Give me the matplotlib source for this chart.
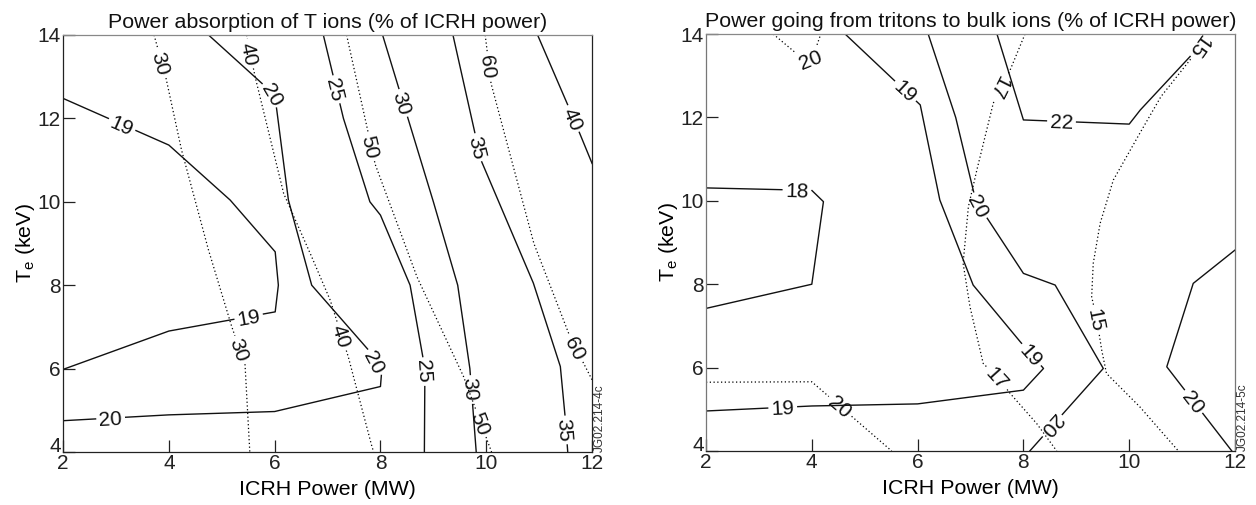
import matplotlib.pyplot as plt
import numpy as np

plt.rcParams['font.family'] = ['Liberation Sans', 'DejaVu Sans']
plt.rcParams['text.color'] = '#111111'

FS = 15

# ---- left panel: power absorption of T ions (% of ICRH power) ----
# each contour: ICRH power (MW) and Te (keV) along the line
abs19_p = [2.0, 4.0, 5.16, 6.01, 6.07, 6.01, 4.0, 2.0]
abs19_t = [12.48, 11.36, 10.04, 8.8, 8.0, 7.36, 6.9, 5.98]
abs20_p = [2.0, 4.0, 6.0, 8.0, 8.02, 7.77, 6.70, 6.26, 6.04, 6.0, 5.69, 4.75]
abs20_t = [4.75, 4.89, 4.97, 5.57, 5.89, 6.45, 8.0, 10.04, 12.2, 12.56, 12.92, 14.0]
abs25_p = [6.92, 7.3, 7.8, 8.0, 8.56, 8.84, 8.83]
abs25_t = [14.0, 12.0, 10.0, 9.68, 8.0, 6.0, 4.0]
abs30_p = [8.04, 9.0, 9.46, 9.69, 9.81]
abs30_t = [14.0, 10.0, 8.0, 6.0, 4.0]
abs35_p = [9.37, 9.9, 10.89, 11.4, 11.49, 11.54]
abs35_t = [14.0, 11.0, 8.05, 6.05, 4.85, 4.0]
abs40_p = [10.97, 11.65, 12.0]
abs40_t = [14.0, 12.0, 10.92]
# dotted contours
dabs30_p = [3.72, 3.94, 4.24, 4.75, 5.19, 5.44, 5.53]
dabs30_t = [14.0, 13.0, 11.24, 8.84, 7.0, 6.09, 4.0]
dabs40_p = [5.47, 5.63, 6.17, 6.7, 7.05, 7.39, 7.83, 7.87]
dabs40_t = [14.0, 13.0, 10.2, 8.68, 7.64, 6.29, 4.17, 4.0]
dabs50_p = [7.36, 7.9, 8.69, 9.57, 10.1]
dabs50_t = [14.0, 10.9, 8.2, 5.81, 4.0]
dabs60_p = [9.98, 10.09, 10.9, 11.58, 12.0]
dabs60_t = [14.0, 12.84, 9.0, 6.77, 5.73]

# ---- right panel: power going from tritons to bulk ions ----
blk18_p = [2.0, 4.0, 4.22, 4.0, 2.0]
blk18_t = [10.31, 10.25, 9.98, 8.0, 7.42]
blk19_p = [4.63, 6.05, 6.42, 7.05, 7.94, 8.38, 8.0, 6.0, 4.0, 2.0]
blk19_t = [14.0, 12.3, 10.02, 7.98, 6.62, 5.98, 5.46, 5.13, 5.08, 4.96]
blk20a_p = [6.2, 6.72, 7.1, 8.0, 8.6, 9.51, 8.12]
blk20a_t = [14.0, 12.0, 10.0, 8.26, 7.98, 5.98, 4.0]
blk20b_p = [12.0, 11.21, 10.71, 11.94]
blk20b_t = [8.82, 8.02, 6.02, 4.0]
blk22_p = [7.5, 8.0, 10.0, 10.21, 11.15, 11.45]
blk22_t = [14.0, 11.94, 11.84, 12.18, 13.46, 14.0]
# dotted contours
dblk15_p = [11.5, 11.15, 10.6, 10.2, 9.7, 9.45, 9.32, 9.29, 9.39, 9.48, 9.57, 10.2, 10.93]
dblk15_t = [14.0, 13.38, 12.5, 11.62, 10.5, 9.46, 8.5, 7.7, 7.14, 6.42, 5.86, 5.06, 4.0]
dblk17_p = [8.03, 7.75, 7.56, 7.43, 7.12, 6.96, 6.86, 6.99, 7.24, 7.53, 7.75, 8.25, 8.63]
dblk17_t = [14.0, 13.14, 12.7, 12.34, 10.74, 9.86, 8.5, 7.46, 6.1, 5.74, 5.38, 4.66, 4.0]
dblk20a_p = [3.27, 3.74, 3.97, 4.06, 4.17]
dblk20a_t = [14.0, 13.5, 13.42, 13.6, 14.0]
dblk20b_p = [2.0, 4.0, 5.51]
dblk20b_t = [5.65, 5.66, 4.0]

power_ticks = [2, 4, 6, 8, 10, 12]
te_ticks = [4, 6, 8, 10, 12, 14]

fig = plt.figure(figsize=(12.56, 5.05), dpi=100)


def make_axes(rect, title, tag):
    ax = fig.add_axes(rect)
    ax.set_xlim(2, 12)
    ax.set_ylim(4, 14)
    ax.set_xticks(power_ticks)
    ax.set_yticks(te_ticks)
    ax.tick_params(direction='in', length=8.6, width=0.9, pad=1.5, labelsize=FS,
                   top=False, right=False, colors='#222222')
    # lowest Te label sits on the corner, above the power labels
    ax.get_yticklabels()[0].set_verticalalignment('baseline')
    for side in ax.spines:
        ax.spines[side].set_linewidth(0.9)
        ax.spines[side].set_color('#222222')
    ax.spines['top'].set_color('#888888')
    ax.set_title(title, fontsize=15.4, pad=5)
    ax.set_xlabel('ICRH Power (MW)', fontsize=15.4, labelpad=5)
    ax.set_ylabel(r'T$_\mathregular{e}$ (keV)', fontsize=15.4)
    ax.yaxis.set_label_coords(-0.05, 0.5)
    ax.text(1.003, 0.0, tag, transform=ax.transAxes, rotation=90, fontsize=8.5,
            ha='left', va='bottom', color='#333333')
    return ax


def contour_line(ax, px, te, dotted, labels):
    # draw one contour with inline labels (text, P hint, Te hint, flip)
    T = ax.transData
    pts = T.transform(np.column_stack([px, te]))
    seg = np.diff(pts, axis=0)
    slen = np.hypot(seg[:, 0], seg[:, 1])
    cum = np.concatenate([[0], np.cumsum(slen)])
    total = cum[-1]

    def at(s):
        s = min(max(s, 0.0), total)
        i = min(np.searchsorted(cum, s, side='right') - 1, len(seg) - 1)
        return pts[i] + (s - cum[i]) / slen[i] * seg[i]

    cuts = []
    for text, hx, hy, flip in labels:
        h = T.transform((hx, hy))
        best, s0 = np.inf, 0.0
        for i in range(len(seg)):
            t = np.clip(np.dot(h - pts[i], seg[i]) / slen[i] ** 2, 0, 1)
            d = np.hypot(*(pts[i] + t * seg[i] - h))
            if d < best:
                best, s0 = d, cum[i] + t * slen[i]
        half = 0.5 * (len(text) * 0.556 * FS * 100 / 72 + 7)
        a, b = at(s0 - half), at(s0 + half)
        ang = np.degrees(np.arctan2(b[1] - a[1], b[0] - a[0])) + (180 if flip else 0)
        cx, cy = T.inverted().transform(at(s0))
        ax.text(cx, cy, text, rotation=ang, rotation_mode='anchor', ha='center',
                va='center_baseline', fontsize=FS)
        cuts.append((s0 - half, s0 + half))

    cuts.sort()
    pieces, start = [], 0.0
    for c0, c1 in cuts:
        if c0 > start:
            pieces.append((start, c0))
        start = max(start, c1)
    if start < total:
        pieces.append((start, total))
    for sa, sb in pieces:
        inner = [pts[i] for i in range(len(pts)) if sa < cum[i] < sb]
        piece = T.inverted().transform(np.array([at(sa)] + inner + [at(sb)]))
        if dotted:
            ax.plot(piece[:, 0], piece[:, 1], color='k', lw=0.9, ls=(0, (1, 2)))
        else:
            ax.plot(piece[:, 0], piece[:, 1], color='#111111', lw=1.0)


ax1 = make_axes([0.0502, 0.1050, 0.4212, 0.8257],
                'Power absorption of T ions (% of ICRH power)', 'JG02.214-4c')
contour_line(ax1, abs19_p, abs19_t, False, [('19', 3.14, 11.92, False), ('19', 5.5, 7.3, True)])
contour_line(ax1, abs20_p, abs20_t, False, [('20', 2.9, 4.8, False), ('20', 7.96, 6.2, True),
                                            ('20', 5.95, 12.56, True)])
contour_line(ax1, abs25_p, abs25_t, False, [('25', 7.11, 12.68, False), ('25', 8.85, 5.93, False)])
contour_line(ax1, abs30_p, abs30_t, False, [('30', 8.40, 12.36, False), ('30', 9.74, 5.5, False)])
contour_line(ax1, abs35_p, abs35_t, False, [('35', 9.82, 11.3, False), ('35', 11.52, 4.53, False)])
contour_line(ax1, abs40_p, abs40_t, False, [('40', 11.65, 12.0, False)])
contour_line(ax1, dabs30_p, dabs30_t, True, [('30', 3.88, 13.32, False), ('30', 5.35, 6.45, False)])
contour_line(ax1, dabs40_p, dabs40_t, True, [('40', 5.57, 13.56, False), ('40', 7.25, 6.77, False)])
contour_line(ax1, dabs50_p, dabs50_t, True, [('50', 7.80, 11.32, False), ('50', 9.88, 4.69, False)])
contour_line(ax1, dabs60_p, dabs60_t, True, [('60', 10.07, 13.24, False), ('60', 11.71, 6.49, False)])

ax2 = make_axes([0.5621, 0.1069, 0.4212, 0.8257],
                'Power going from tritons to bulk ions (% of ICRH power)', 'JG02.214-5c')
for side in ['left', 'right']:
    ax2.spines[side].set_color('#777777')
contour_line(ax2, blk18_p, blk18_t, False, [('18', 3.72, 10.28, False)])
contour_line(ax2, blk19_p, blk19_t, False, [('19', 5.79, 12.66, False), ('19', 8.16, 6.32, False),
                                            ('19', 3.45, 5.06, True)])
contour_line(ax2, blk20a_p, blk20a_t, False, [('20', 7.18, 9.9, False), ('20', 8.57, 4.58, False)])
contour_line(ax2, blk20b_p, blk20b_t, False, [('20', 11.21, 5.18, False)])
contour_line(ax2, blk22_p, blk22_t, False, [('22', 8.72, 11.9, False), ('  ', 11.38, 13.7, False)])
contour_line(ax2, dblk15_p, dblk15_t, True, [('15', 11.36, 13.66, False), ('15', 9.38, 7.14, False)])
contour_line(ax2, dblk17_p, dblk17_t, True, [('17', 7.56, 12.7, False), ('17', 7.5, 5.74, False)])
contour_line(ax2, dblk20a_p, dblk20a_t, True, [('20', 3.97, 13.42, False)])
contour_line(ax2, dblk20b_p, dblk20b_t, True, [('20', 4.53, 5.06, False)])

fig.savefig('out.png', dpi=100)
